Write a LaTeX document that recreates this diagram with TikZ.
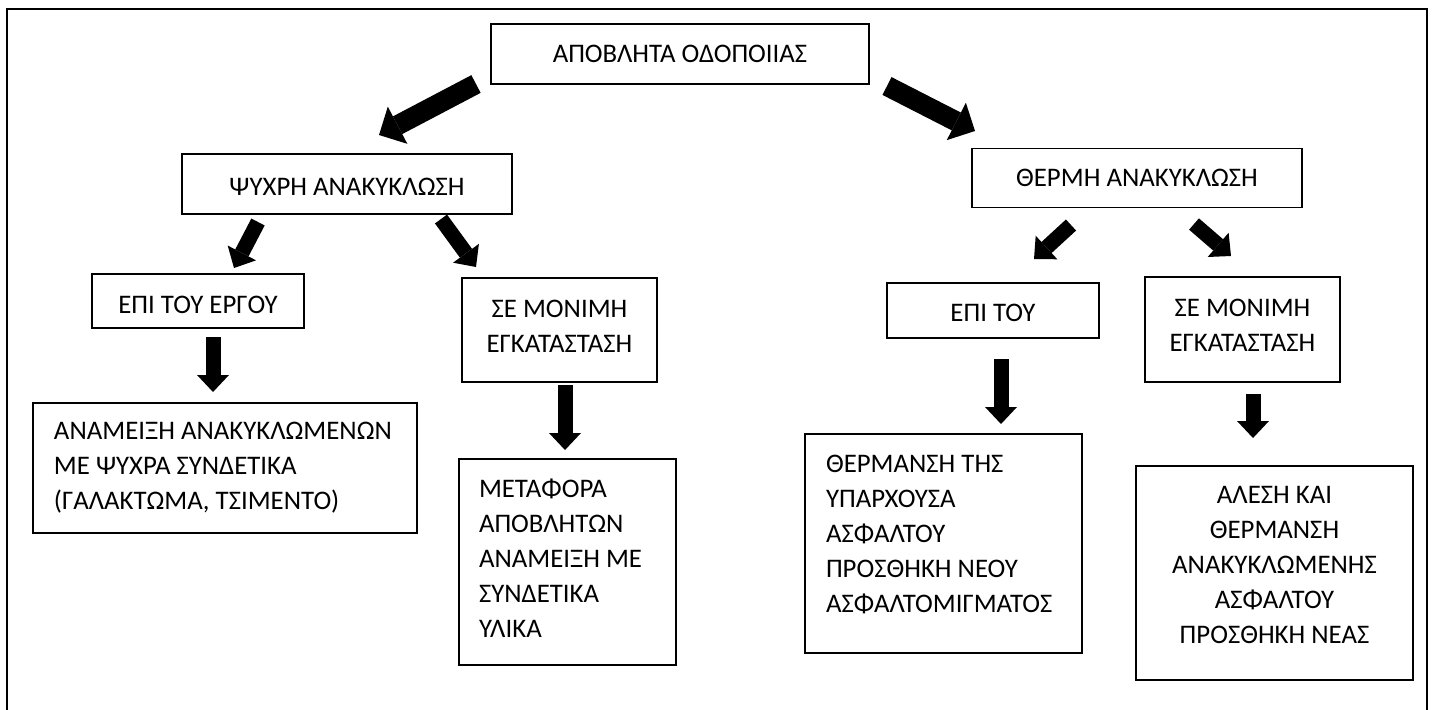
\documentclass[tikz,border=0pt]{standalone}
\usepackage{fontspec}
\setmainfont{Carlito}
\usepackage{tikz}
\usetikzlibrary{arrows.meta}
\tikzset{>={Triangle[line width=0pt]}}
\tikzset{
  box/.style={draw, line width=0.75pt, inner sep=0pt, align=center,
    font=\fontsize{13.4}{17.5}\selectfont},
  lbox/.style={box, align=flush left, inner xsep=10.5pt},
  bigarr/.style={line width=10pt, -{Triangle[length=10.5pt, width=21pt, line width=0pt]}},
  arr/.style={line width=7.5pt, -{Triangle[length=8.5pt, width=16pt, line width=0pt]}},
}
\newcommand\up[1]{\rule[-#1]{0pt}{#1}}
\newcommand\dn[1]{\rule{0pt}{#1}}

\begin{document}
\begin{tikzpicture}[x=0.5pt, y=-0.5pt]

  \useasboundingbox (0,0) rectangle (1434,709);
  \draw[line width=0.6pt] (7,9) rectangle (1427,760); % frame

  %% level 0
  \node[box, minimum width=189pt, minimum height=30pt] (waste) at (680,54) {ΑΠΟΒΛΗΤΑ ΟΔΟΠΟΙΙΑΣ};

  %% level 1
  \node[box, minimum width=165pt, minimum height=30pt] (cold) at (347,184) {\dn{11.5pt}ΨΥΧΡΗ ΑΝΑΚΥΚΛΩΣΗ};
  \node[box, minimum width=165pt, minimum height=29.5pt] (hot) at (1137,178) {ΘΕΡΜΗ ΑΝΑΚΥΚΛΩΣΗ};

  %% level 2
  \node[box, minimum width=106pt, minimum height=27pt] (coldsite) at (198,301) {\dn{12.5pt}ΕΠΙ ΤΟΥ ΕΡΓΟΥ};
  \node[box, minimum width=97.5pt, minimum height=52pt] (coldplant) at (559.5,330) {ΣΕ ΜΟΝΙΜΗ\\ΕΓΚΑΤΑΣΤΑΣΗ\up{3.5pt}};
  \node[box, minimum width=106pt, minimum height=27.5pt] (hotsite) at (993,310.5) {\dn{11.5pt}ΕΠΙ ΤΟΥ};
  \node[box, minimum width=97.5pt, minimum height=52.5pt] (hotplant) at (1242.5,329.5) {ΣΕ ΜΟΝΙΜΗ\\ΕΓΚΑΤΑΣΤΑΣΗ\up{4pt}};

  %% level 3
  \node[lbox, text width=171pt, minimum height=65pt] (coldmix) at (225,468)
    {ΑΝΑΜΕΙΞΗ ΑΝΑΚΥΚΛΩΜΕΝΩΝ\\ΜΕ ΨΥΧΡΑ ΣΥΝΔΕΤΙΚΑ\\(ΓΑΛΑΚΤΩΜΑ, ΤΣΙΜΕΝΤΟ)};
  \node[lbox, inner xsep=10pt, text width=88.5pt, minimum height=103pt] (coldtrans) at (567.5,562)
    {ΜΕΤΑΦΟΡΑ\\ΑΠΟΒΛΗΤΩΝ\\ΑΝΑΜΕΙΞΗ ΜΕ\\ΣΥΝΔΕΤΙΚΑ\\ΥΛΙΚΑ\up{4pt}};
  \node[lbox, text width=117.5pt, minimum height=109.5pt] (hotheat) at (943.5,543.5)
    {ΘΕΡΜΑΝΣΗ ΤΗΣ\\ΥΠΑΡΧΟΥΣΑ\\ΑΣΦΑΛΤΟΥ\\ΠΡΟΣΘΗΚΗ ΝΕΟΥ\\ΑΣΦΑΛΤΟΜΙΓΜΑΤΟΣ\up{10pt}};
  \node[box, minimum width=138.5pt, minimum height=107pt] (hotmill) at (1274.5,573)
    {ΑΛΕΣΗ ΚΑΙ\\ΘΕΡΜΑΝΣΗ\\ΑΝΑΚΥΚΛΩΜΕΝΗΣ\\ΑΣΦΑΛΤΟΥ\\ΠΡΟΣΘΗΚΗ ΝΕΑΣ\up{8pt}};

  %% arrow ends
  \coordinate (a1) at (476,84);    \coordinate (b1) at (379,135);
  \coordinate (a2) at (887,86);    \coordinate (b2) at (975,131);
  \coordinate (a3) at (258,222);   \coordinate (b3) at (234,268);
  \coordinate (a4) at (441,219);   \coordinate (b4) at (476,267);
  \coordinate (a5) at (1071,225);  \coordinate (b5) at (1034,259);
  \coordinate (a6) at (1194,224);  \coordinate (b6) at (1231,256);
  \coordinate (a7) at (213,337);   \coordinate (b7) at (213,392);
  \coordinate (a8) at (565,385);   \coordinate (b8) at (565,450);
  \coordinate (a9) at (1001,359);  \coordinate (b9) at (1001,424);
  \coordinate (a10) at (1253,394); \coordinate (b10) at (1253,438);

  \draw[bigarr] (a1) -- (b1); %% waste->cold
  \draw[bigarr] (a2) -- (b2); %% waste->hot
  \draw[arr] (a3) -- (b3); %% cold->coldsite
  \draw[arr] (a4) -- (b4); %% cold->coldplant
  \draw[arr] (a5) -- (b5); %% hot->hotsite
  \draw[arr] (a6) -- (b6); %% hot->hotplant
  \draw[arr] (a7) -- (b7); %% coldsite->coldmix
  \draw[arr] (a8) -- (b8); %% coldplant->coldtrans
  \draw[arr] (a9) -- (b9); %% hotsite->hotheat
  \draw[arr] (a10) -- (b10); %% hotplant->hotmill

\end{tikzpicture}
\end{document}
